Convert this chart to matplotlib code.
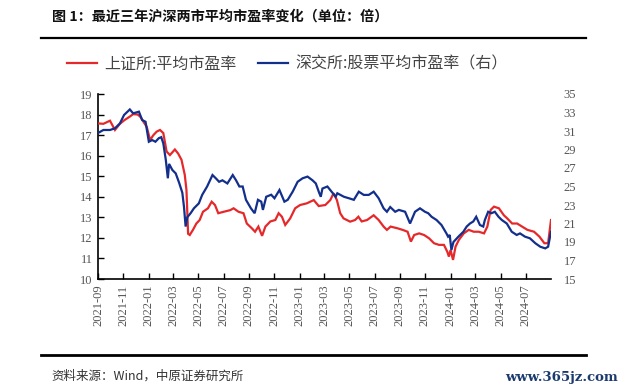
import matplotlib
matplotlib.use("Agg")
import matplotlib.pyplot as plt
from matplotlib.lines import Line2D
import pandas as pd

# ---------------- data ----------------
sse_dates = [
    "2021-09-30", "2021-10-13", "2021-10-29", "2021-11-10", "2021-11-22", "2021-12-03",
    "2021-12-16", "2021-12-24", "2022-01-04", "2022-01-10", "2022-01-18", "2022-01-26",
    "2022-02-03", "2022-02-11", "2022-02-19", "2022-02-27", "2022-03-07", "2022-03-15",
    "2022-03-23", "2022-04-04", "2022-04-12", "2022-04-20", "2022-04-28", "2022-05-02",
    "2022-05-06", "2022-05-10", "2022-05-18", "2022-05-26", "2022-06-03", "2022-06-11",
    "2022-06-23", "2022-07-02", "2022-07-10", "2022-07-18", "2022-07-31", "2022-08-16",
    "2022-08-24", "2022-09-05", "2022-09-17", "2022-09-25", "2022-10-07", "2022-10-15",
    "2022-10-23", "2022-11-01", "2022-11-09", "2022-11-21", "2022-12-03", "2022-12-11",
    "2022-12-19", "2022-12-27", "2023-01-08", "2023-01-20", "2023-02-01", "2023-02-17",
    "2023-03-06", "2023-03-18", "2023-04-03", "2023-04-15", "2023-04-23", "2023-05-01",
    "2023-05-09", "2023-05-17", "2023-06-02", "2023-06-14", "2023-06-22", "2023-06-30",
    "2023-07-13", "2023-07-29", "2023-08-10", "2023-08-22", "2023-08-30", "2023-09-08",
    "2023-09-24", "2023-10-07", "2023-10-19", "2023-10-27", "2023-11-04", "2023-11-16",
    "2023-11-28", "2023-12-10", "2023-12-22", "2024-01-03", "2024-01-15", "2024-01-23",
    "2024-01-27", "2024-01-31", "2024-02-06", "2024-02-12", "2024-02-20", "2024-03-03",
    "2024-03-15", "2024-03-27", "2024-04-08", "2024-04-21", "2024-04-29", "2024-05-07",
    "2024-05-15", "2024-05-27", "2024-06-08", "2024-06-16", "2024-06-28", "2024-07-10",
    "2024-07-22", "2024-08-04", "2024-08-20", "2024-09-02", "2024-09-14", "2024-09-23",
    "2024-09-30",
]
sse_pe = [
    17.57, 17.55, 17.70, 17.25, 17.55, 17.73,
    17.90, 18.02, 18.00, 17.90, 17.65, 17.40,
    16.76, 17.00, 17.17, 17.25, 17.10, 16.20,
    16.03, 16.30, 16.10, 15.80, 15.06, 14.33,
    12.20, 12.14, 12.40, 12.70, 12.87, 13.27,
    13.44, 13.76, 13.60, 13.20, 13.27, 13.35,
    13.44, 13.27, 13.20, 12.70, 12.47, 12.30,
    12.55, 12.10, 12.55, 12.80, 12.87, 13.20,
    13.03, 12.63, 12.95, 13.44, 13.60, 13.68,
    13.84, 13.55, 13.60, 13.84, 14.17, 13.84,
    13.20, 12.95, 12.79, 12.87, 13.03, 12.80,
    12.87, 13.10, 12.87, 12.55, 12.39, 12.55,
    12.47, 12.39, 12.30, 11.82, 12.14, 12.22,
    12.14, 11.98, 11.74, 11.66, 11.66, 11.33,
    11.09, 11.41, 10.93, 11.57, 11.90, 12.22,
    12.39, 12.30, 12.30, 12.22, 12.55, 13.36,
    13.52, 13.44, 13.10, 12.95, 12.70, 12.70,
    12.55, 12.39, 12.30, 12.06, 11.74, 11.74,
    12.87,
]

szse_dates = [
    "2021-09-30", "2021-10-13", "2021-10-29", "2021-11-10", "2021-11-22", "2021-12-02",
    "2021-12-16", "2021-12-24", "2022-01-07", "2022-01-15", "2022-01-23", "2022-01-31",
    "2022-02-08", "2022-02-16", "2022-02-24", "2022-03-02", "2022-03-07", "2022-03-13",
    "2022-03-18", "2022-03-21", "2022-03-29", "2022-04-06", "2022-04-14", "2022-04-22",
    "2022-04-26", "2022-04-30", "2022-05-04", "2022-05-12", "2022-05-20", "2022-06-01",
    "2022-06-09", "2022-06-21", "2022-07-04", "2022-07-12", "2022-07-20", "2022-07-28",
    "2022-08-09", "2022-08-22", "2022-08-30", "2022-09-07", "2022-09-15", "2022-09-23",
    "2022-10-05", "2022-10-14", "2022-10-22", "2022-10-30", "2022-11-03", "2022-11-11",
    "2022-11-23", "2022-12-01", "2022-12-13", "2022-12-25", "2023-01-02", "2023-01-14",
    "2023-01-26", "2023-02-07", "2023-02-19", "2023-03-03", "2023-03-11", "2023-03-19",
    "2023-03-23", "2023-03-27", "2023-04-08", "2023-04-16", "2023-04-28", "2023-05-02",
    "2023-05-18", "2023-05-30", "2023-06-11", "2023-06-23", "2023-07-05", "2023-07-17",
    "2023-07-29", "2023-08-10", "2023-08-22", "2023-08-30", "2023-09-07", "2023-09-19",
    "2023-09-28", "2023-10-13", "2023-10-25", "2023-11-06", "2023-11-18", "2023-11-30",
    "2023-12-08", "2023-12-16", "2023-12-28", "2024-01-09", "2024-01-21", "2024-01-25",
    "2024-01-29", "2024-02-02", "2024-02-07", "2024-02-19", "2024-03-02", "2024-03-10",
    "2024-03-18", "2024-03-26", "2024-04-02", "2024-04-11", "2024-04-19", "2024-04-23",
    "2024-05-01", "2024-05-09", "2024-05-17", "2024-05-26", "2024-06-03", "2024-06-15",
    "2024-06-27", "2024-07-09", "2024-07-17", "2024-07-29", "2024-08-10", "2024-08-23",
    "2024-09-04", "2024-09-16", "2024-09-23", "2024-09-30",
]
szse_pe = [
    30.78, 31.11, 31.11, 31.29, 31.82, 32.73,
    33.33, 32.91, 33.09, 32.18, 32.00, 29.84,
    30.02, 29.84, 30.22, 30.33, 29.67, 27.89,
    25.89, 27.44, 26.78, 26.42, 25.44, 24.33,
    22.82, 20.67, 21.67, 22.11, 22.64, 23.18,
    24.09, 25.00, 26.24, 25.89, 25.51, 25.67,
    25.33, 26.24, 25.67, 25.00, 25.00, 23.56,
    22.64, 22.11, 23.56, 23.36, 22.47, 23.89,
    24.11, 23.73, 24.62, 23.36, 23.56, 24.44,
    25.51, 25.89, 26.07, 25.67, 25.33, 24.33,
    23.89, 24.78, 25.00, 24.56, 23.89, 24.27,
    23.89, 23.73, 23.56, 24.44, 24.09, 24.09,
    24.44, 23.73, 22.64, 22.27, 22.78, 22.27,
    22.47, 22.27, 21.00, 22.27, 22.64, 22.27,
    22.11, 21.73, 21.38, 20.84, 19.93, 19.58,
    19.76, 18.13, 19.00, 19.58, 20.11, 20.67,
    21.00, 21.22, 21.73, 20.84, 20.67, 21.38,
    22.27, 22.11, 22.27, 21.73, 21.38, 21.00,
    20.11, 19.76, 19.93, 19.58, 19.40, 18.87,
    18.49, 18.31, 18.49, 20.11,
]

tick_dates = [
    "2021-09-30", "2021-11-30", "2022-01-31", "2022-03-31", "2022-05-31", "2022-07-31",
    "2022-09-30", "2022-11-30", "2023-01-31", "2023-03-31", "2023-05-31", "2023-07-31",
    "2023-09-30", "2023-11-30", "2024-01-31", "2024-03-31", "2024-05-31", "2024-07-31",
]
tick_labels = [
    "2021-09", "2021-11", "2022-01", "2022-03", "2022-05", "2022-07",
    "2022-09", "2022-11", "2023-01", "2023-03", "2023-05", "2023-07",
    "2023-09", "2023-11", "2024-01", "2024-03", "2024-05", "2024-07",
]
left_ticks = [10, 11, 12, 13, 14, 15, 16, 17, 18, 19]
right_ticks = [15, 17, 19, 21, 23, 25, 27, 29, 31, 33, 35]

title_text = "图 1：最近三年沪深两市平均市盈率变化（单位：倍）"
sse_label = "上证所:平均市盈率"
szse_label = "深交所:股票平均市盈率（右）"
source_text = "资料来源：Wind，中原证券研究所"
watermark = "www.365jz.com"

# ---------------- styling ----------------
RED = "#E5292B"
BLUE = "#132F8C"
CJK = ["Noto Sans CJK SC", "DejaVu Sans"]
SERIF = ["Liberation Serif", "DejaVu Serif"]
TICK_COLOR = "#555555"

W, H = 626, 392
fig = plt.figure(figsize=(W / 100, H / 100), dpi=100)
fig.patch.set_facecolor("white")

left, right, top, bottom = 98, 551, 94, 279
ax = fig.add_axes([left / W, 1 - bottom / H, (right - left) / W, (bottom - top) / H])
ax2 = ax.twinx()

x1 = pd.to_datetime(sse_dates)
x2 = pd.to_datetime(szse_dates)
l1, = ax.plot(x1, sse_pe, color=RED, lw=1.6, solid_joinstyle="miter", label=sse_label, zorder=3)
l2, = ax2.plot(x2, szse_pe, color=BLUE, lw=1.6, solid_joinstyle="miter", label=szse_label, zorder=4)

ax.set_xlim(pd.Timestamp("2021-09-30"), pd.Timestamp("2024-09-30"))
ax.set_ylim(10, 19)
ax2.set_ylim(15, 35)

ax.set_yticks(left_ticks)
ax2.set_yticks(right_ticks)
ax.set_xticks(pd.to_datetime(tick_dates))
ax.set_xticklabels(tick_labels, rotation=90)

for a in (ax, ax2):
    a.spines["top"].set_visible(False)
    a.spines["right"].set_visible(False)
ax2.spines["left"].set_visible(False)
ax2.spines["bottom"].set_visible(False)
ax.spines["left"].set_linewidth(1.2)
ax.spines["bottom"].set_linewidth(1.2)

ax.tick_params(axis="both", direction="in", length=4.5, width=1.0, color="black",
               labelsize=9, labelcolor=TICK_COLOR, pad=4)
ax2.tick_params(axis="y", length=0, labelsize=9, labelcolor=TICK_COLOR, pad=9)
for lab in ax.get_xticklabels() + ax.get_yticklabels() + ax2.get_yticklabels():
    lab.set_fontfamily(SERIF)

# ---------------- header / footer ----------------
fig.text(52 / W, 1 - 17 / H, title_text, fontsize=10.2, fontweight="bold",
         family=CJK, ha="left", va="center", color="#111111")
fig.add_artist(Line2D([41 / W, 586 / W], [1 - 38 / H, 1 - 38 / H], color="black", lw=1.6))

fig.legend(handles=[l1, l2], loc="center left", bbox_to_anchor=(67 / W, 1 - 64 / H),
           ncol=2, frameon=False, prop={"family": CJK, "size": 11.5},
           labelcolor="#444444", handlelength=1.9, handletextpad=0.45,
           columnspacing=1.3, borderpad=0, borderaxespad=0)

fig.add_artist(Line2D([41 / W, 586 / W], [1 - 355 / H, 1 - 355 / H], color="black", lw=2.0))
fig.text(51 / W, 1 - 376 / H, source_text, fontsize=9, family=CJK,
         ha="left", va="center", color="#333333")
fig.text(618 / W, 1 - 378 / H, watermark, fontsize=9.5, family=["DejaVu Serif"],
         fontweight="bold", ha="right", va="center", color="#1B3A6E")

fig.savefig("out.png", dpi=100, facecolor="white")
